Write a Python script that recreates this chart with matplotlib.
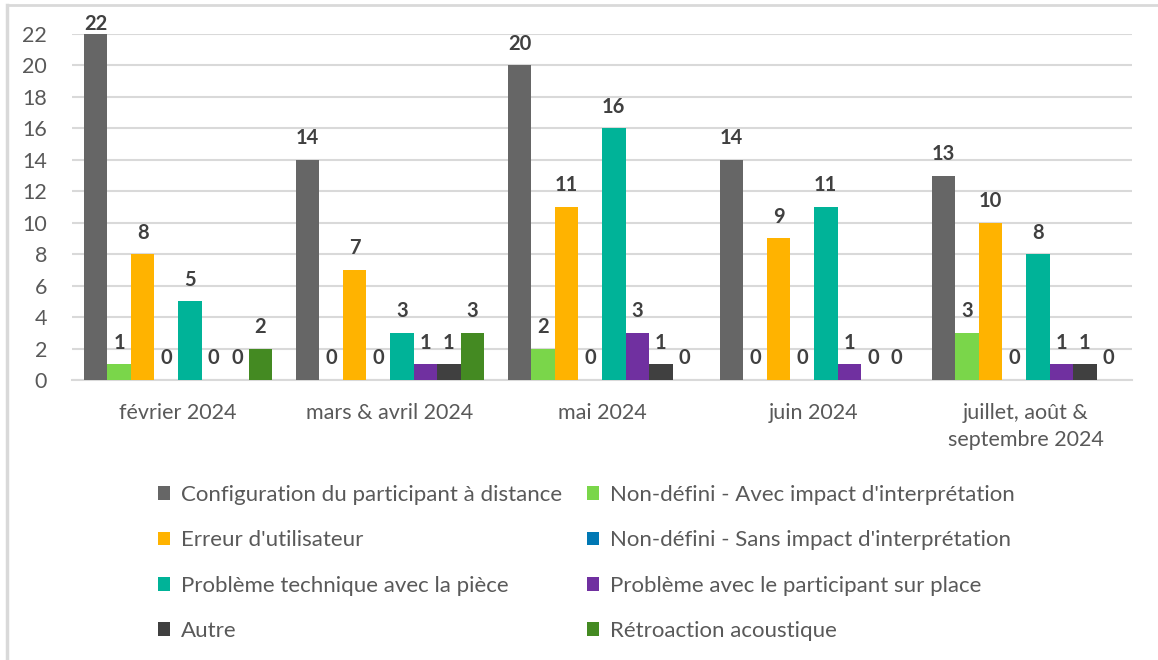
import numpy as np
import matplotlib.pyplot as plt
from matplotlib.patches import Patch
from matplotlib.lines import Line2D

plt.rcParams['font.family'] = ['Lato', 'DejaVu Sans']

# Categories and series
months = ['février 2024', 'mars & avril 2024', 'mai 2024', 'juin 2024',
          'juillet, août &\nseptembre 2024']
series = ['Configuration du participant à distance',
          "Non-défini - Avec impact d'interprétation",
          "Erreur d'utilisateur",
          "Non-défini - Sans impact d'interprétation",
          'Problème technique avec la pièce',
          'Problème avec le participant sur place',
          'Autre',
          'Rétroaction acoustique']
colors = ['#666666', '#7AD64A', '#FFB300', '#0078B4',
          '#00B398', '#7030A0', '#404040', '#448A22']

config_distance = [22, 14, 20, 14, 13]
nd_avec = [1, 0, 2, 0, 3]
erreur_util = [8, 7, 11, 9, 10]
nd_sans = [0, 0, 0, 0, 0]
probleme_piece = [5, 3, 16, 11, 8]
probleme_participant = [0, 1, 3, 1, 1]
autre = [0, 1, 1, 0, 1]
retroaction = [2, 3, 0, 0, 0]

values = [config_distance, nd_avec, erreur_util, nd_sans,
          probleme_piece, probleme_participant, autre, retroaction]

fig = plt.figure(figsize=(11.58, 6.6), dpi=100)
ax = fig.add_axes([72 / 1158, 1 - 380 / 660, 1060 / 1158, 346 / 660])

x = np.arange(len(months))
w = 1 / 9
n = len(series)
for i, (name, vals, c) in enumerate(zip(series, values, colors)):
    pos = x + (i - (n - 1) / 2) * w
    ax.bar(pos, vals, width=w, color=c, label=name, zorder=3)
    for p, v in zip(pos, vals):
        # label sits above the bar, but stays inside the chart area at the top
        ylab = min(v + 0.74, 21.98)
        ax.text(p, ylab, str(v), ha='center', va='bottom', fontsize=14.5,
                fontweight='bold', color='#404040', clip_on=False, zorder=4)

ax.set_xlim(-0.5, 4.5)
ax.set_ylim(0, 22)
ax.set_yticks(np.arange(0, 23, 2))
ax.yaxis.grid(True, color='#D9D9D9', linewidth=1.5, zorder=0)
ax.set_axisbelow(True)
ax.set_xticks(x)
ax.set_xticklabels(months, fontsize=15.5, color='#595959', linespacing=1.42)
ax.tick_params(axis='y', labelsize=15.5, labelcolor='#595959', length=0, pad=18)
ax.tick_params(axis='x', length=0, pad=16.5)
for s in ['top', 'right', 'left']:
    ax.spines[s].set_visible(False)
ax.spines['bottom'].set_color('#D9D9D9')
ax.spines['bottom'].set_linewidth(1.5)

# legend, filled row by row like Excel
order = [0, 2, 4, 6, 1, 3, 5, 7]
handles = [Patch(facecolor=colors[k], edgecolor='none') for k in order]
labels = [series[k] for k in order]
leg = fig.legend(handles, labels, loc='upper left', bbox_to_anchor=(158 / 1158, 1 - 485 / 660),
                 ncol=2, frameon=False, fontsize=16, handlelength=0.55, handleheight=0.55,
                 handletextpad=0.5, columnspacing=1.1, labelspacing=1.14,
                 borderaxespad=0, borderpad=0)
for t in leg.get_texts():
    t.set_color('#595959')

# frame (left and top edges of the chart area)
fig.add_artist(Line2D([7 / 1158, 7 / 1158], [0, 1 - 5 / 660], transform=fig.transFigure,
                      color='#D9D9D9', linewidth=2.5))
fig.add_artist(Line2D([7 / 1158, 1], [1 - 5 / 660, 1 - 5 / 660], transform=fig.transFigure,
                      color='#D9D9D9', linewidth=2))

fig.savefig('out.png', dpi=100)
